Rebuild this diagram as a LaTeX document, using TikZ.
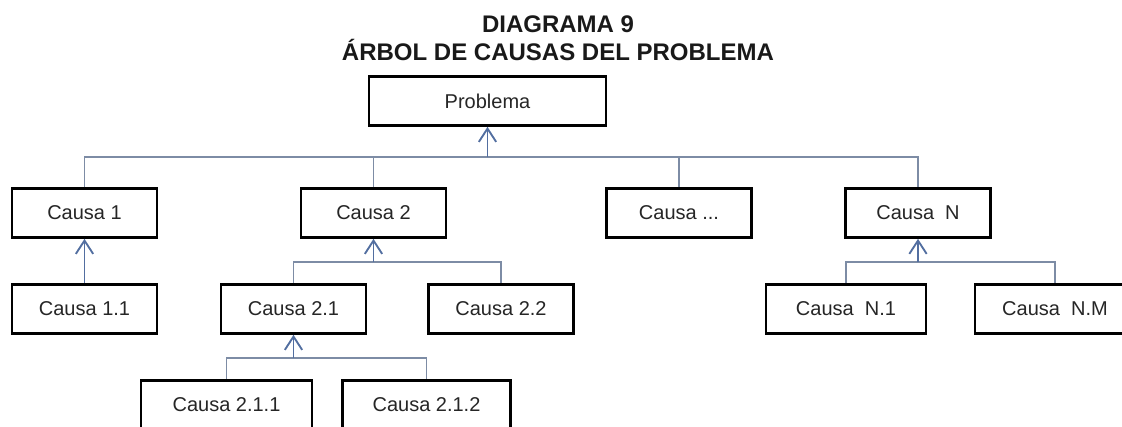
\documentclass[tikz,border=0pt]{standalone}
\usepackage{fontspec}
\setmainfont{Liberation Sans}
\usetikzlibrary{arrows.meta}

\definecolor{linkgray}{RGB}{125,140,165}
\definecolor{arrowblue}{RGB}{82,110,160}

\begin{document}
\begin{tikzpicture}[x=0.75pt, y=-0.75pt,
        heading/.style=
            {
                font = \fontsize{18}{21}\selectfont\bfseries,
                text = black!90,
                inner sep = 0pt,
                anchor = base
            },
        cause/.style=
            {
                rectangle,
                draw = black,
                line width = 2pt,
                fill = white,
                inner sep = 0pt,
                minimum width = 108.75pt,
                minimum height = 36.75pt,
                font = \fontsize{15}{18}\selectfont,
                text = black!85
            },
        link/.style=
            {
                draw = linkgray,
                line width = 0.9pt
            },
        up/.style=
            {
                draw = arrowblue,
                line width = 1pt,
                -{Straight Barb[length=10pt, width=13pt, line width=1.4pt]}
            }
    ]

    \useasboundingbox (0,0) rectangle (1122,426);

    \draw (558,32) node[heading] (head1) {DIAGRAMA 9};
    \draw (558,60) node[heading] (head2) {ÁRBOL DE CAUSAS DEL PROBLEMA};

    \draw (487.5,101) node[cause, minimum width=177.75pt] (prob) {Problema};

    \draw (84.5,213) node[cause] (c1) {Causa 1};
    \draw (373.5,213) node[cause] (c2) {Causa 2};
    \draw (679,213) node[cause] (cdots) {Causa ...};
    \draw (918,213) node[cause] (cN) {Causa~~N};

    \draw (84.5,309) node[cause] (c11) {Causa 1.1};
    \draw (293.5,309) node[cause] (c21) {Causa 2.1};
    \draw (501,309) node[cause] (c22) {Causa 2.2};
    \draw (846,309) node[cause, minimum width=120pt] (cN1) {Causa~~N.1};
    \draw (1055,309) node[cause, minimum width=120pt] (cNM) {Causa~~N.M};

    \draw (226.5,405) node[cause, minimum width=128.25pt] (c211) {Causa 2.1.1};
    \draw (426.5,405) node[cause, minimum width=126pt] (c212) {Causa 2.1.2};

    % level 1
    \coordinate (bar1) at (0,157);
    \draw[link] (c1.north) |- (bar1 -| cN.north) -- (cN.north);
    \draw[link] (c2.north) -- (c2.north |- bar1);
    \draw[link] (cdots.north) -- (cdots.north |- bar1);
    \draw[up] (prob.south |- bar1) -- (prob.south);

    % level 2
    \coordinate (bar2) at (0,262);
    \draw[up] (c11.north) -- (c1.south);
    \draw[link] (c21.north) |- (bar2 -| c22.north) -- (c22.north);
    \draw[up] (c2.south |- bar2) -- (c2.south);
    \draw[link] (cN1.north) |- (bar2 -| cNM.north) -- (cNM.north);
    \draw[up] (cN.south |- bar2) -- (cN.south);

    % level 3
    \coordinate (bar3) at (0,358);
    \draw[link] (c211.north) |- (bar3 -| c212.north) -- (c212.north);
    \draw[up] (c21.south |- bar3) -- (c21.south);

\end{tikzpicture}
\end{document}
